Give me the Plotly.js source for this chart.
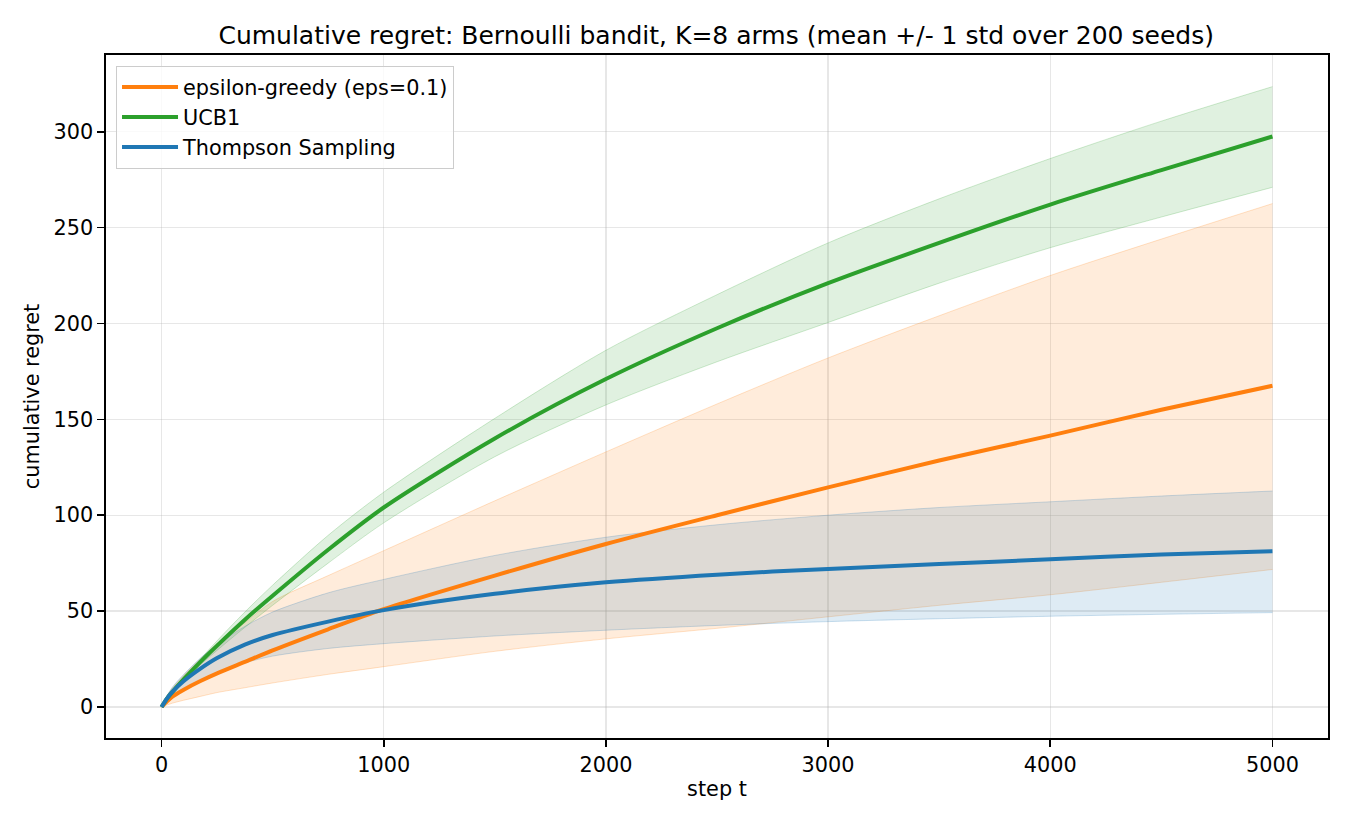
<!DOCTYPE html>
<html>
<head>
<meta charset="utf-8">
<script src="https://cdn.plot.ly/plotly-3.0.1.min.js"></script>
<style>
  html, body { margin: 0; padding: 0; background: #fff; }
  #chart { width: 1350px; height: 825px; }
</style>
</head>
<body>
<div id="chart"></div>
<script>
// Time steps at which the averaged regret curves are sampled
const steps = [0, 25, 50, 100, 175, 250, 375, 500, 750, 1000, 1500, 2000, 2500, 3000, 3500, 4000, 4500, 5000];

// epsilon-greedy (eps=0.1): mean and +/- 1 std band
const epsMean  = [0, 3, 5.5, 9, 13.5, 17.5, 23.5, 29.5, 40.5, 51, 68.5, 85, 100, 114.5, 128.5, 141.5, 155, 167.5];
const epsUpper = [0, 6, 10, 16.5, 25, 33, 44, 55, 68.5, 81.5, 107.5, 133, 158, 182, 204, 225, 244, 262.5];
const epsLower = [0, 1, 2, 3.5, 5.5, 7.5, 10, 12.5, 17, 21, 29, 35.5, 41, 47, 53, 58.5, 65, 71.7];

// UCB1
const ucbMean  = [0, 4.5, 8, 14.5, 23.5, 32, 45.5, 58, 82, 104, 140, 171, 197.5, 221, 242, 262, 280, 297.5];
const ucbUpper = [0, 4.8, 8.6, 15.5, 25, 34.5, 49.5, 63.5, 89.5, 112, 150.5, 186, 215, 242, 265, 286, 305.5, 323.5];
const ucbLower = [0, 4.2, 7.4, 13.5, 22, 29.5, 41.5, 53, 75, 96, 130.5, 157.5, 180, 200.5, 221, 239.5, 255.5, 271];

// Thompson Sampling
const tsMean  = [0, 4.5, 8, 13.5, 20, 25.5, 32.5, 37.5, 44.5, 50.5, 59, 65, 69, 72, 74.5, 77, 79.5, 81.2];
const tsUpper = [0, 6, 10.5, 17, 25.5, 32.5, 42, 49.5, 59.5, 66.5, 79, 88.5, 95, 100, 104, 107, 110, 112.6];
const tsLower = [0, 2.5, 4.5, 8.5, 14, 18, 23, 26.5, 30.5, 33, 37, 40, 42.5, 44.5, 46, 47.3, 48.3, 49.2];

const seriesNames = ['epsilon-greedy (eps=0.1)', 'UCB1', 'Thompson Sampling'];
const colors = ['#ff7f0e', '#2ca02c', '#1f77b4'];
const fills = ['rgba(255,127,14,0.15)', 'rgba(44,160,44,0.15)', 'rgba(31,119,180,0.15)'];
const edges = ['rgba(255,127,14,0.22)', 'rgba(44,160,44,0.22)', 'rgba(31,119,180,0.22)'];

const means = [epsMean, ucbMean, tsMean];
const uppers = [epsUpper, ucbUpper, tsUpper];
const lowers = [epsLower, ucbLower, tsLower];

const traces = [];
// std bands first so the mean curves sit on top
for (let i = 0; i < 3; i++) {
  traces.push({
    x: steps, y: lowers[i], type: 'scatter', mode: 'lines',
    line: { color: edges[i], width: 1, shape: 'spline', smoothing: 0.8 },
    showlegend: false, hoverinfo: 'skip'
  });
  traces.push({
    x: steps, y: uppers[i], type: 'scatter', mode: 'lines',
    line: { color: edges[i], width: 1, shape: 'spline', smoothing: 0.8 },
    fill: 'tonexty', fillcolor: fills[i],
    showlegend: false, hoverinfo: 'skip'
  });
}
for (let i = 0; i < 3; i++) {
  traces.push({
    x: steps, y: means[i], type: 'scatter', mode: 'lines',
    name: seriesNames[i],
    line: { color: colors[i], width: 4, shape: 'spline', smoothing: 0.8 }
  });
}

const font = { family: 'DejaVu Sans, sans-serif', color: '#000', size: 20.8 };

const axisCommon = {
  showgrid: true, gridcolor: 'rgba(176,176,176,0.3)', gridwidth: 1.2,
  zeroline: false,
  showline: true, linecolor: '#000', linewidth: 1.6, mirror: true,
  ticks: 'outside', ticklen: 7, tickwidth: 1.6, tickcolor: '#000',
  tickfont: font, automargin: false
};

const layout = {
  width: 1350, height: 825,
  margin: { l: 106, r: 22, t: 55, b: 87 },
  paper_bgcolor: '#fff', plot_bgcolor: '#fff',
  font: font,
  title: {
    text: 'Cumulative regret: Bernoulli bandit, K=8 arms (mean +/- 1 std over 200 seeds)',
    font: { family: 'DejaVu Sans, sans-serif', size: 25, color: '#000' },
    x: 0.5305, xanchor: 'center', xref: 'container',
    y: 0.957, yanchor: 'middle', yref: 'container'
  },
  xaxis: Object.assign({}, axisCommon, {
    range: [-250, 5250],
    tickvals: [0, 1000, 2000, 3000, 4000, 5000],
    title: { text: 'step t', font: font, standoff: 6 }
  }),
  yaxis: Object.assign({}, axisCommon, {
    range: [-16.2, 340],
    tickvals: [0, 50, 100, 150, 200, 250, 300],
    title: { text: 'cumulative regret', font: font, standoff: 8 }
  }),
  legend: {
    x: 0.0082, y: 0.984, xanchor: 'left', yanchor: 'top',
    traceorder: 'normal', itemwidth: 56,
    bgcolor: 'rgba(255,255,255,0.8)', bordercolor: '#cccccc', borderwidth: 1,
    font: font, tracegroupgap: 0
  },
  showlegend: true
};

Plotly.newPlot('chart', traces, layout, { staticPlot: true, displayModeBar: false });
</script>
</body>
</html>
